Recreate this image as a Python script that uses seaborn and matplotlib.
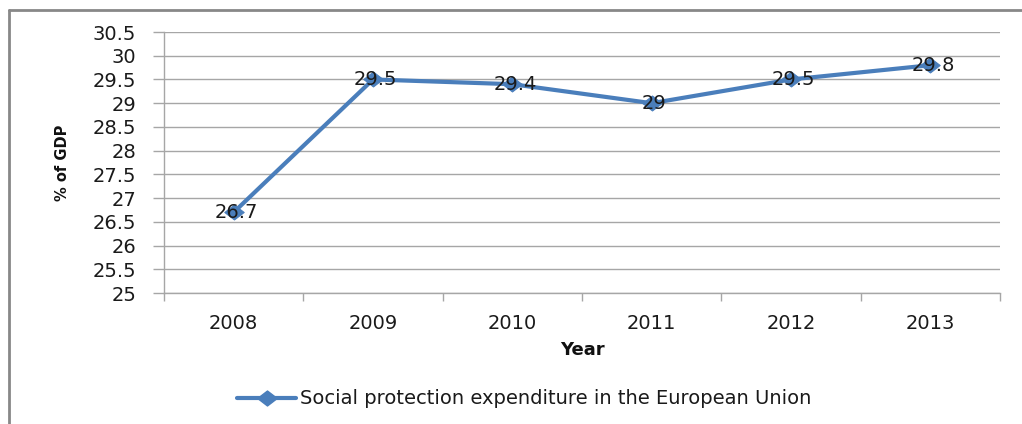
import matplotlib
matplotlib.use("Agg")
import matplotlib.pyplot as plt
from matplotlib.lines import Line2D
from matplotlib.path import Path
import numpy as np
import pandas as pd
import seaborn as sns

years = ["2008", "2009", "2010", "2011", "2012", "2013"]
expenditure = [26.7, 29.5, 29.4, 29.0, 29.5, 29.8]
value_labels = ["26.7", "29.5", "29.4", "29", "29.5", "29.8"]
y_ticks = [25, 25.5, 26, 26.5, 27, 27.5, 28, 28.5, 29, 29.5, 30, 30.5]
y_tick_labels = ["25", "25.5", "26", "26.5", "27", "27.5", "28", "28.5", "29", "29.5", "30", "30.5"]
series_name = "Social protection expenditure in the European Union"

sns.set_theme(style="white")
plt.rcParams["font.family"] = ["DejaVu Sans"]

BLUE = "#4A7EBB"
GRID = "#A6A6A6"
TEXT = "#1a1a1a"
FS = 14

# slightly wide diamond marker
diamond = Path([(-1.3, 0), (0, 1), (1.3, 0), (0, -1), (-1.3, 0)],
               [Path.MOVETO, Path.LINETO, Path.LINETO, Path.LINETO, Path.CLOSEPOLY])

df = pd.DataFrame({"Year": np.arange(len(years)), "Value": expenditure})

fig = plt.figure(figsize=(10.22, 4.24), dpi=100)
ax = fig.add_axes([164 / 1022, 1 - 293 / 424, (1000 - 164) / 1022, (293 - 32) / 424])

sns.lineplot(data=df, x="Year", y="Value", ax=ax, color=BLUE, linewidth=3.0,
             marker=diamond, markersize=14, markeredgecolor=BLUE, legend=False)

for i, (v, t) in enumerate(zip(expenditure, value_labels)):
    ax.text(i + 0.02, v, t, ha="center", va="center", fontsize=FS, color=TEXT, zorder=5)

ax.set_xlim(-0.5, len(years) - 0.5)
ax.set_ylim(25, 30.5)
ax.set_yticks(y_ticks)
ax.set_yticklabels(y_tick_labels)
ax.set_xticks(np.arange(len(years)))
ax.set_xticklabels(years)
ax.set_xticks(np.arange(len(years) + 1) - 0.5, minor=True)

ax.grid(axis="y", color=GRID, linewidth=1.0)
ax.set_axisbelow(True)
for side in ("top", "right"):
    ax.spines[side].set_visible(False)
for side in ("left", "bottom"):
    ax.spines[side].set_color(GRID)
    ax.spines[side].set_linewidth(1.0)

ax.tick_params(axis="y", which="major", left=True, length=8, width=1, color=GRID,
               labelsize=FS, labelcolor=TEXT, pad=12)
ax.tick_params(axis="x", which="major", bottom=False, labelsize=FS,
               labelcolor=TEXT, pad=9)
ax.tick_params(axis="x", which="minor", bottom=True, length=6, width=1, color=GRID)

ax.set_xlabel("Year", fontsize=13, fontweight="bold", color="#111111", labelpad=6)
ax.set_ylabel("% of GDP", fontsize=10.5, fontweight="bold", color="#111111")
ax.yaxis.set_label_coords((70 - 164) / 836, 0.5)

handle = Line2D([0], [0], color=BLUE, linewidth=3.0, marker=diamond, markersize=14)
fig.legend([handle], [series_name], loc="center", bbox_to_anchor=(0.513, 1 - 399 / 424),
           frameon=False, fontsize=FS, handlelength=3.0, handletextpad=0.2,
           labelcolor=TEXT)

# outer chart frame
fig.add_artist(Line2D([9 / 1022, 9 / 1022], [0, 1 - 10 / 424], transform=fig.transFigure,
                      color="#888888", linewidth=2))
fig.add_artist(Line2D([9 / 1022, 1], [1 - 10 / 424, 1 - 10 / 424], transform=fig.transFigure,
                      color="#888888", linewidth=2))

fig.savefig("out.png", dpi=100, facecolor="white")
